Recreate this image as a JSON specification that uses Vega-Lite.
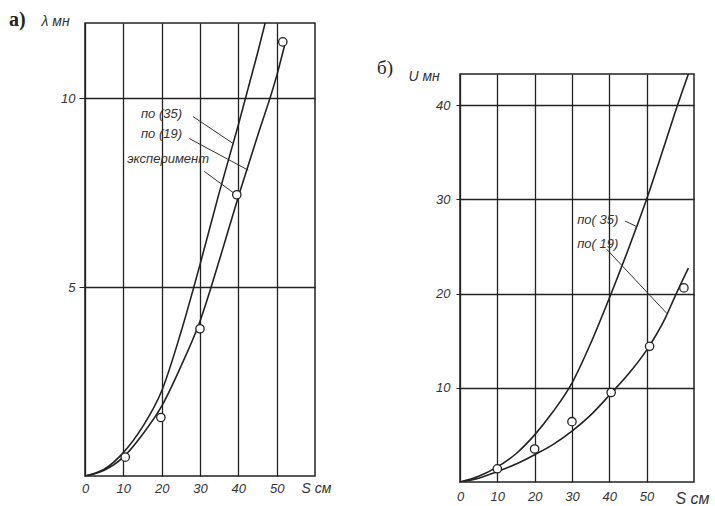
{
  "$schema": "https://vega.github.io/schema/vega-lite/v6.json",
  "background": "white",
  "padding": {"left": 8, "top": 9, "right": 2, "bottom": 2},
  "spacing": 44,
  "config": {
    "view": {"stroke": "#222", "strokeWidth": 1.5},
    "font": "Liberation Sans",
    "axis": {
      "domain": false,
      "grid": true,
      "gridColor": "#222",
      "gridWidth": 1.3,
      "gridOpacity": 1,
      "labelFontStyle": "italic",
      "labelFontSize": 13,
      "labelColor": "#333",
      "labelFlush": false,
      "titleFontStyle": "italic",
      "titleFontWeight": "normal",
      "titleFontSize": 14,
      "titleColor": "#333",
      "tickColor": "#222"
    }
  },
  "datasets": {
    "a_curves": [
      {"series": "35", "S": 0, "v": 0}, {"series": "35", "S": 5, "v": 0.18}, {"series": "35", "S": 10, "v": 0.62},
      {"series": "35", "S": 15, "v": 1.3}, {"series": "35", "S": 20, "v": 2.25}, {"series": "35", "S": 25, "v": 3.8},
      {"series": "35", "S": 30, "v": 5.6}, {"series": "35", "S": 35, "v": 7.5}, {"series": "35", "S": 40, "v": 9.3},
      {"series": "35", "S": 45, "v": 11.2}, {"series": "35", "S": 48, "v": 12.4},
      {"series": "19", "S": 0, "v": 0}, {"series": "19", "S": 5, "v": 0.15}, {"series": "19", "S": 10, "v": 0.5},
      {"series": "19", "S": 15, "v": 1.1}, {"series": "19", "S": 20, "v": 1.85}, {"series": "19", "S": 25, "v": 2.9},
      {"series": "19", "S": 30, "v": 4.1}, {"series": "19", "S": 35, "v": 5.7}, {"series": "19", "S": 40, "v": 7.4},
      {"series": "19", "S": 45, "v": 9.0}, {"series": "19", "S": 50, "v": 10.6}, {"series": "19", "S": 52.3, "v": 11.5}
    ],
    "a_pts": [
      {"S": 10.5, "v": 0.5}, {"S": 19.8, "v": 1.55}, {"S": 30, "v": 3.9}, {"S": 39.6, "v": 7.45}, {"S": 51.6, "v": 11.5}
    ],
    "a_notes": [
      {"S": 14.6, "v": 9.58, "t": "по (35)"},
      {"S": 14.6, "v": 9.05, "t": "по (19)"},
      {"S": 11, "v": 8.39, "t": "эксперимент"}
    ],
    "a_leaders": [
      {"S": 28.2, "v": 9.52, "S2": 38.9, "v2": 8.79},
      {"S": 27.2, "v": 8.94, "S2": 42.6, "v2": 8.1},
      {"S": 31.1, "v": 8.07, "S2": 38.9, "v2": 7.49}
    ],
    "b_curves": [
      {"series": "35", "S": 0, "v": 0}, {"series": "35", "S": 5, "v": 0.6}, {"series": "35", "S": 10, "v": 1.6},
      {"series": "35", "S": 15, "v": 3.0}, {"series": "35", "S": 20, "v": 5.0}, {"series": "35", "S": 25, "v": 7.5},
      {"series": "35", "S": 30, "v": 10.5}, {"series": "35", "S": 35, "v": 14.7}, {"series": "35", "S": 40, "v": 19.5},
      {"series": "35", "S": 45, "v": 24.6}, {"series": "35", "S": 50, "v": 30}, {"series": "35", "S": 55, "v": 36},
      {"series": "35", "S": 58.3, "v": 40}, {"series": "35", "S": 61.2, "v": 43.3},
      {"series": "19", "S": 0, "v": 0}, {"series": "19", "S": 5, "v": 0.4}, {"series": "19", "S": 10, "v": 1.1},
      {"series": "19", "S": 15, "v": 1.9}, {"series": "19", "S": 20, "v": 2.9}, {"series": "19", "S": 25, "v": 4.0},
      {"series": "19", "S": 30, "v": 5.4}, {"series": "19", "S": 35, "v": 7.1}, {"series": "19", "S": 40, "v": 9.2},
      {"series": "19", "S": 45, "v": 11.4}, {"series": "19", "S": 50, "v": 14.0}, {"series": "19", "S": 55, "v": 17.4},
      {"series": "19", "S": 57.5, "v": 19.6}, {"series": "19", "S": 61.2, "v": 22.7}
    ],
    "b_pts": [
      {"S": 10, "v": 1.4}, {"S": 20, "v": 3.5}, {"S": 30, "v": 6.4}, {"S": 40.5, "v": 9.5}, {"S": 50.8, "v": 14.4}, {"S": 60, "v": 20.6}
    ],
    "b_notes": [
      {"S": 31.4, "v": 27.8, "t": "по( 35)"},
      {"S": 31.4, "v": 25.3, "t": "по( 19)"}
    ],
    "b_leaders": [
      {"S": 44.2, "v": 27.7, "S2": 47.4, "v2": 27.1},
      {"S": 39.3, "v": 24.7, "S2": 55.4, "v2": 17.9}
    ]
  },
  "hconcat": [
    {
      "width": 230,
      "height": 453,
      "title": {"text": "а)", "anchor": "start", "frame": "group", "dx": -76, "offset": -16, "font": "Liberation Serif", "fontSize": 20, "fontWeight": "bold", "color": "#222"},
      "layer": [
        {
          "data": {"name": "a_curves"},
          "mark": {"type": "line", "interpolate": "monotone", "clip": true, "color": "#222", "strokeWidth": 1.6},
          "encoding": {
            "x": {"field": "S", "type": "quantitative", "scale": {"domain": [0, 60], "nice": false},
                  "axis": {"values": [0, 10, 20, 30, 40, 50], "ticks": false, "labelPadding": 6, "title": "S см",
                           "titleX": 231, "titleY": 5, "titleAlign": "center", "titleBaseline": "top"}},
            "y": {"field": "v", "type": "quantitative", "scale": {"domain": [0, 12], "nice": false},
                  "axis": {"values": [5, 10], "ticks": true, "tickSize": 6, "labelPadding": 4, "title": "λ мн",
                           "titleAngle": 0, "titleX": -44, "titleY": -2, "titleAlign": "left", "titleBaseline": "middle"}},
            "detail": {"field": "series"}
          }
        },
        {
          "data": {"name": "a_leaders"},
          "mark": {"type": "rule", "color": "#333", "strokeWidth": 1},
          "encoding": {
            "x": {"field": "S", "type": "quantitative"},
            "y": {"field": "v", "type": "quantitative"},
            "x2": {"field": "S2"},
            "y2": {"field": "v2"}
          }
        },
        {
          "data": {"name": "a_pts"},
          "mark": {"type": "point", "shape": "circle", "filled": true, "fill": "white", "stroke": "#222", "strokeWidth": 1.3, "size": 70, "opacity": 1},
          "encoding": {
            "x": {"field": "S", "type": "quantitative"},
            "y": {"field": "v", "type": "quantitative"}
          }
        },
        {
          "data": {"name": "a_notes"},
          "mark": {"type": "text", "align": "left", "baseline": "middle", "fontStyle": "italic", "fontSize": 13, "color": "#333"},
          "encoding": {
            "x": {"field": "S", "type": "quantitative"},
            "y": {"field": "v", "type": "quantitative"},
            "text": {"field": "t"}
          }
        }
      ]
    },
    {
      "spacing": 0,
      "vconcat": [
        {
          "width": 234,
          "height": 34,
          "view": {"stroke": "transparent"},
          "data": {"values": [{"t": ""}]},
          "mark": {"type": "text", "opacity": 0},
          "encoding": {"text": {"field": "t"}}
        },
        {
          "width": 234,
          "height": 408,
          "title": {"text": "б)", "anchor": "start", "frame": "group", "dx": -83, "offset": -9, "font": "Liberation Serif", "fontSize": 19, "fontWeight": "normal", "color": "#222"},
          "layer": [
            {
              "data": {"name": "b_curves"},
              "mark": {"type": "line", "interpolate": "monotone", "clip": true, "color": "#222", "strokeWidth": 1.6},
              "encoding": {
                "x": {"field": "S", "type": "quantitative", "scale": {"domain": [0, 62.7], "nice": false},
                      "axis": {"values": [0, 10, 20, 30, 40, 50], "ticks": false, "labelPadding": 8, "title": "S см",
                               "titleX": 232, "titleY": 8, "titleAlign": "center", "titleBaseline": "top", "titleFontSize": 16}},
                "y": {"field": "v", "type": "quantitative", "scale": {"domain": [0, 43.3], "nice": false},
                      "axis": {"values": [10, 20, 30, 40], "ticks": true, "tickSize": 4, "labelPadding": 6, "title": "U мн",
                               "titleAngle": 0, "titleX": -52, "titleY": 2, "titleAlign": "left", "titleBaseline": "middle"}},
                "detail": {"field": "series"}
              }
            },
            {
              "data": {"name": "b_leaders"},
              "mark": {"type": "rule", "color": "#333", "strokeWidth": 1},
              "encoding": {
                "x": {"field": "S", "type": "quantitative"},
                "y": {"field": "v", "type": "quantitative"},
                "x2": {"field": "S2"},
                "y2": {"field": "v2"}
              }
            },
            {
              "data": {"name": "b_pts"},
              "mark": {"type": "point", "shape": "circle", "filled": true, "fill": "white", "stroke": "#222", "strokeWidth": 1.3, "size": 70, "opacity": 1},
              "encoding": {
                "x": {"field": "S", "type": "quantitative"},
                "y": {"field": "v", "type": "quantitative"}
              }
            },
            {
              "data": {"name": "b_notes"},
              "mark": {"type": "text", "align": "left", "baseline": "middle", "fontStyle": "italic", "fontSize": 13, "color": "#333"},
              "encoding": {
                "x": {"field": "S", "type": "quantitative"},
                "y": {"field": "v", "type": "quantitative"},
                "text": {"field": "t"}
              }
            }
          ]
        }
      ]
    }
  ]
}
